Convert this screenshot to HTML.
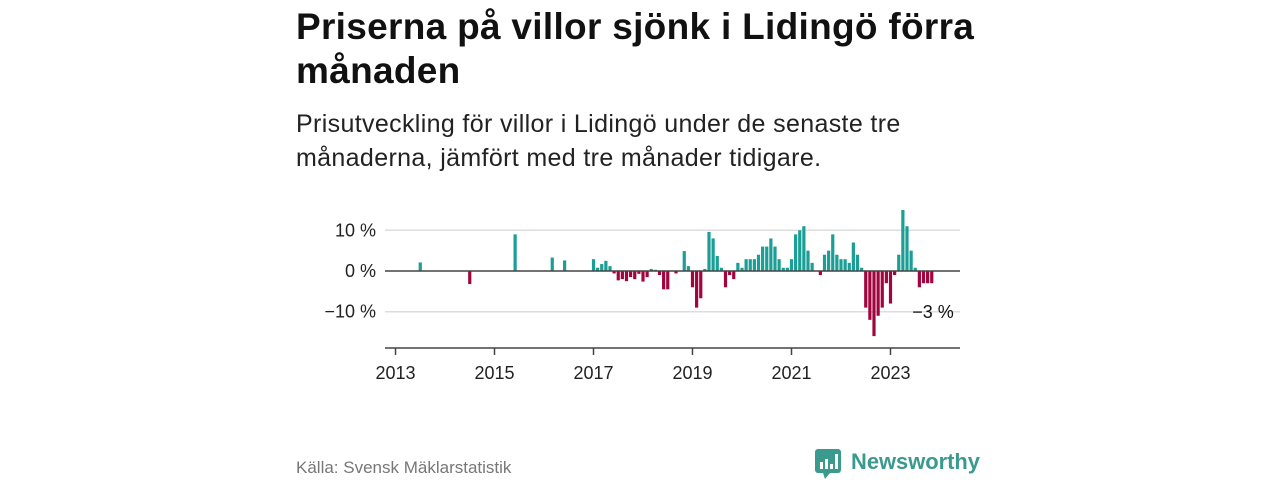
<!DOCTYPE html>
<html><head><meta charset="utf-8"><style>
body{margin:0;background:#fff;width:1280px;height:480px;overflow:hidden;font-family:"Liberation Sans",sans-serif;position:relative}
.t{position:absolute;left:296px;color:#111;}
#title{top:5px;font-size:37px;font-weight:bold;line-height:44px;width:720px;letter-spacing:0.3px}
#sub{top:107px;font-size:25px;line-height:34px;color:#222;width:680px;letter-spacing:0.35px}
#src{top:458px;font-size:17px;color:#777}
</style></head><body>
<div id="title" class="t">Priserna på villor sjönk i Lidingö förra månaden</div>
<div id="sub" class="t">Prisutveckling för villor i Lidingö under de senaste tre månaderna, jämfört med tre månader tidigare.</div>
<div id="src" class="t">Källa: Svensk Mäklarstatistik</div>
<div style="position:absolute;left:814px;top:447px;height:34px;">
<svg width="190" height="34"><rect x="1" y="2" width="26" height="24" rx="3" fill="#3a9a8e"/><polygon points="9,26 16,26 11,32" fill="#3a9a8e"/><rect x="6" y="15" width="3" height="7" fill="#fff"/><rect x="11" y="12" width="3" height="10" fill="#fff"/><rect x="16" y="17" width="3" height="5" fill="#fff"/><rect x="21" y="7" width="3" height="15" fill="#fff"/><text x="37" y="22" font-family="Liberation Sans" font-size="22" font-weight="bold" fill="#3a9a8e" textLength="129" lengthAdjust="spacingAndGlyphs">Newsworthy</text></svg></div>
<svg id="chart" width="1280" height="480" style="position:absolute;left:0;top:0"></svg>
<script>
const values=[0,0,0,0,0,0,2.1,0,0,0,0,0, 0,0,0,0,0,0,-3.2,0,0,0,0,0, 0,0,0,0,0,9,0,0,0,0,0,0, 0,0,3.3,0,0,2.6,0,0,0,0,0,0,
2.9,0.8,1.7,2.5,1.2,-0.6,-2.3,-2,-2.5,-1.5,-2,-0.7, -2.6,-1.5,0.5,0.3,-1,-4.5,-4.5,0,-0.6,0,4.9,1.2,
-4,-9,-6.7,0.5,9.6,8,3.7,0.8,-4,-1,-2,2, 0.8,2.9,2.9,2.9,4,6,6,8,6,2.9,0.8,0.8,
2.9,9,10,11,5,2,0,-1,4,5,9,4, 2.9,2.9,2,7,4,0.8,-9,-12,-16,-11,-9,-3,
-8,-1,4,15,11,5,0.8,-4,-3,-3,-3];
const startYear=2013;
const yTicks=[10,0,-10];
const yTickLabels=["10 %","0 %","−10 %"];
const xTicks=[2013,2015,2017,2019,2021,2023];
const lastLabel="−3 %";
const ns="http://www.w3.org/2000/svg";
const svg=document.getElementById('chart');
const x0=395.5,pxYear=49.5,y0=271,pxPct=4.07;
const X=m=>x0+m*pxYear/12;
const Y=v=>y0-v*pxPct;
function mk(t,a){const e=document.createElementNS(ns,t);for(const k in a)e.setAttribute(k,a[k]);svg.appendChild(e);return e;}
yTicks.forEach((v,i)=>{
 if(v!==0){const g=mk('line',{x1:385,x2:960,y1:Y(v),y2:Y(v),stroke:'#ddd','stroke-width':1.5});
 
 }
 const t=mk('text',{x:376,y:Y(v)+6,'text-anchor':'end','font-size':18,fill:'#222','font-family':'Liberation Sans'});
 t.textContent=yTickLabels[i];
 
 
});
values.forEach((v,i)=>{
 if(v===0)return;
 const r=mk('rect',{x:X(i)-1.6,width:3.2,y:Math.min(Y(v),y0),height:Math.abs(Y(v)-y0),fill:v>0?'#1a9e95':'#a0063d'});
 
 
});
const z=mk('line',{x1:385,x2:960,y1:y0,y2:y0,stroke:'#444','stroke-width':1.5});


const ax=mk('line',{x1:385,x2:960,y1:348,y2:348,stroke:'#444','stroke-width':1.5});


xTicks.forEach(yr=>{
 const x=X((yr-startYear)*12);
 const l=mk('line',{x1:x,x2:x,y1:348,y2:355,stroke:'#444','stroke-width':1.5});
 
 
 const t=mk('text',{x:x,y:379,'text-anchor':'middle','font-size':18,fill:'#222','font-family':'Liberation Sans'});
 t.textContent=yr;
 
 
});
const li=values.length-1;
const lt=mk('text',{x:X(li)+22,y:Y(values[li])+35,'text-anchor':'end','font-size':18,fill:'#111','font-family':'Liberation Sans'});
lt.textContent=lastLabel;


</script>
</body></html>
